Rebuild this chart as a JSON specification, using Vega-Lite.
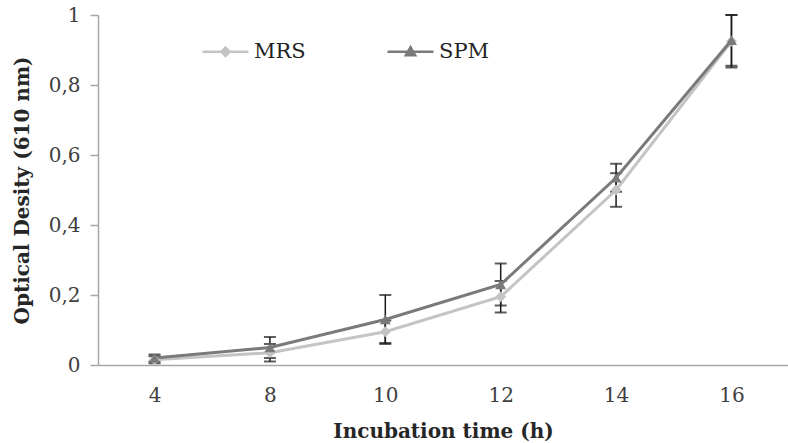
{
  "$schema": "https://vega.github.io/schema/vega-lite/v6.json",
  "width": 690,
  "height": 350,
  "autosize": {"type": "none"},
  "padding": {"left": 98, "top": 15, "right": 0, "bottom": 78},
  "background": "white",
  "config": {
    "view": {"stroke": null},
    "axis": {"grid": false},
    "axisY": {
      "domainColor": "#a6a6a6", "domainWidth": 1.5, "tickColor": "#a6a6a6", "tickWidth": 1.5, "tickSize": 8,
      "labelPadding": 10, "labelFont": "DejaVu Serif", "labelFontSize": 20, "labelColor": "#404040", "labelFontWeight": "normal",
      "titleFont": "DejaVu Serif", "titleFontWeight": "bold", "titleFontSize": 20, "titleColor": "#262626", "titlePadding": 16
    },
    "axisX": {
      "domainColor": "#a6a6a6", "domainWidth": 1.5, "ticks": false,
      "labelPadding": 20, "labelAngle": 0, "labelFont": "DejaVu Serif", "labelFontSize": 20, "labelColor": "#404040",
      "titleFont": "DejaVu Serif", "titleFontWeight": "bold", "titleFontSize": 20, "titleColor": "#262626", "titlePadding": 16
    }
  },
  "data": {"values": [
    {"series": "MRS", "t": 4, "od": 0.015, "lo": 0.005, "hi": 0.025},
    {"series": "MRS", "t": 8, "od": 0.035, "lo": 0.01, "hi": 0.06},
    {"series": "MRS", "t": 10, "od": 0.095, "lo": 0.063, "hi": 0.127},
    {"series": "MRS", "t": 12, "od": 0.195, "lo": 0.15, "hi": 0.24},
    {"series": "MRS", "t": 14, "od": 0.5, "lo": 0.452, "hi": 0.548},
    {"series": "MRS", "t": 16, "od": 0.925, "lo": 0.85, "hi": 1.0},
    {"series": "SPM", "t": 4, "od": 0.02, "lo": 0.01, "hi": 0.03},
    {"series": "SPM", "t": 8, "od": 0.05, "lo": 0.02, "hi": 0.08},
    {"series": "SPM", "t": 10, "od": 0.13, "lo": 0.06, "hi": 0.2},
    {"series": "SPM", "t": 12, "od": 0.23, "lo": 0.17, "hi": 0.29},
    {"series": "SPM", "t": 14, "od": 0.535, "lo": 0.495, "hi": 0.575},
    {"series": "SPM", "t": 16, "od": 0.928, "lo": 0.855, "hi": 1.0}
  ]},
  "encoding": {
    "x": {"field": "t", "type": "ordinal", "title": "Incubation time (h)", "scale": {"type": "point", "padding": 0.49}}
  },
  "layer": [
    {
      "mark": {"type": "rule", "color": "#1a1a1a", "strokeWidth": 1.5},
      "encoding": {
        "y": {"field": "lo", "type": "quantitative", "title": "Optical Desity (610 nm)", "scale": {"domain": [0, 1]},
              "axis": {"values": [0, 0.2, 0.4, 0.6, 0.8, 1], "labelExpr": "replace(format(datum.value, '.1~f'), '.', ',')"}},
        "y2": {"field": "hi"}
      }
    },
    {
      "mark": {"type": "tick", "color": "#1a1a1a", "size": 12, "thickness": 2},
      "encoding": {"y": {"field": "lo", "type": "quantitative", "title": "Optical Desity (610 nm)"}}
    },
    {
      "mark": {"type": "tick", "color": "#1a1a1a", "size": 12, "thickness": 2},
      "encoding": {"y": {"field": "hi", "type": "quantitative", "title": "Optical Desity (610 nm)"}}
    },
    {
      "mark": {"type": "line", "strokeWidth": 3},
      "encoding": {
        "y": {"field": "od", "type": "quantitative", "title": "Optical Desity (610 nm)"},
        "color": {
          "field": "series", "type": "nominal",
          "scale": {"domain": ["MRS", "SPM"], "range": ["#c4c4c4", "#7a7a7a"]},
          "legend": {
            "orient": "none", "legendX": 103, "legendY": 12, "direction": "horizontal", "title": null, "padding": 0,
            "labelFont": "DejaVu Serif", "labelFontSize": 21, "labelColor": "#222222", "labelOffset": 4,
            "symbolSize": 2116, "symbolStrokeWidth": 2.5, "columnPadding": 76,
            "encode": {
              "symbols": {"update": {
                "shape": {"signal": "datum.value === 'MRS' ? 'M-1,0L1,0M0,-0.18L0.18,0L0,0.18L-0.18,0Z' : 'M-1,0L1,0M0,-0.2L0.2,0.15L-0.2,0.15Z'"},
                "fill": {"signal": "scale('color', datum.value)"},
                "stroke": {"signal": "scale('color', datum.value)"},
                "strokeWidth": {"value": 2.5},
                "opacity": {"value": 1}
              }}
            }
          }
        }
      }
    },
    {
      "transform": [{"filter": "datum.series === 'MRS'"}],
      "mark": {"type": "point", "filled": true, "opacity": 1, "shape": "diamond", "size": 120},
      "encoding": {
        "y": {"field": "od", "type": "quantitative", "title": "Optical Desity (610 nm)"},
        "color": {"field": "series", "type": "nominal", "legend": null}
      }
    },
    {
      "transform": [{"filter": "datum.series === 'SPM'"}],
      "mark": {"type": "point", "filled": true, "opacity": 1, "shape": "triangle-up", "size": 120},
      "encoding": {
        "y": {"field": "od", "type": "quantitative", "title": "Optical Desity (610 nm)"},
        "color": {"field": "series", "type": "nominal", "legend": null}
      }
    }
  ]
}
